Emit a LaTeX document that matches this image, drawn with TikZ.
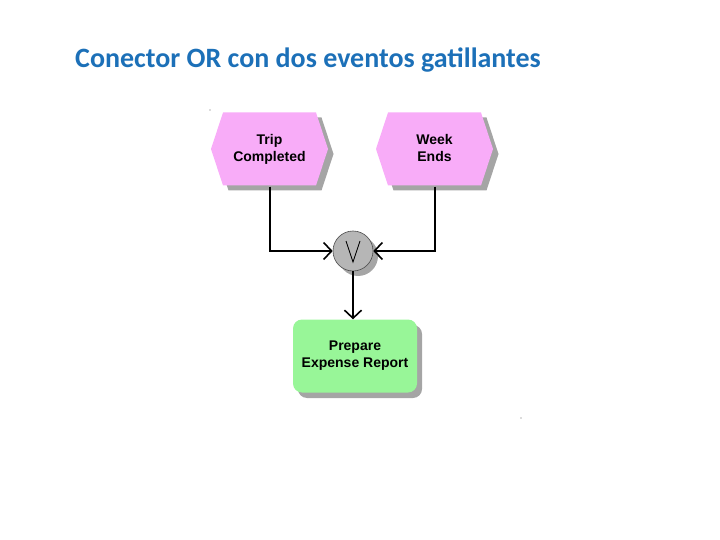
\documentclass[tikz,border=0pt]{standalone}
\usepackage{fontspec}
\setmainfont{Liberation Sans}
\newfontfamily\titlefont{Carlito}
\usetikzlibrary{arrows.meta,shapes.geometric}
\definecolor{titleblue}{RGB}{28,112,184}
\definecolor{evtpink}{RGB}{248,172,248}
\definecolor{funcgreen}{RGB}{152,246,152}
\definecolor{shadowgray}{RGB}{165,165,165}
\definecolor{orgray}{RGB}{182,182,182}
\newcommand\myhex[3]{%
  \fill[#3] (#1-58.5,#2) -- (#1-46.5,#2-36.5) -- (#1+46.5,#2-36.5) -- (#1+58.5,#2)
     -- (#1+46.5,#2+36.5) -- (#1-46.5,#2+36.5) -- cycle;}
\tikzset{
  evt/.style={rectangle, minimum width=117pt, minimum height=73pt, inner sep=0pt,
    align=center, font=\fontsize{14}{17}\selectfont\bfseries},
  func/.style={rectangle, rounded corners=9pt, minimum width=124pt, minimum height=73pt,
    inner sep=0pt, align=center, fill=funcgreen, font=\fontsize{14}{17}\selectfont\bfseries},
  orconn/.style={circle, minimum size=40pt, inner sep=0pt, fill=orgray, draw=black!70, line width=0.6pt},
  conn/.style={line width=2pt, -{Straight Barb[length=8pt,width=17pt,line width=1.6pt]}},
}
\begin{document}
\begin{tikzpicture}[x=1pt,y=-1pt]
\useasboundingbox (0,0) rectangle (720,540);
% title
\node[anchor=base west, inner sep=0pt, text=titleblue, font=\titlefont\fontsize{28}{32}\selectfont\bfseries] (title) at (75,68) {Conector OR con dos eventos gatillantes};
% shadows
\myhex{275}{154}{shadowgray}
\myhex{440}{154}{shadowgray}
\fill[shadowgray, rounded corners=9pt] (298,325) rectangle (422,398);
\fill[shadowgray] (358,256) circle (20);
% shapes
\myhex{269.5}{149}{evtpink}
\myhex{434.5}{149}{evtpink}
\node[evt] (trip) at (269.5,150) {Trip\strut\\Completed\strut};
\node[evt] (week) at (434.5,150) {Week\strut\\Ends\strut};
\node[orconn] (or) at (353,251) {};
\draw[line width=0.9pt, line join=miter] ([xshift=-7pt,yshift=10pt]or.center) -- ([xshift=0pt,yshift=-11pt]or.center) -- ([xshift=7pt,yshift=10pt]or.center);
\node[func] (prep) at (355,356) {Prepare\strut\\Expense Report\strut};
% connectors
\draw[conn] (trip.south) |- (or.west);
\draw[conn] (week.south) |- (or.east);
\draw[conn] (or.south) -- (or.south |- prep.north);
% tiny dots
\fill[black!60] (210,110) circle (0.6);
\fill[black!60] (521,418) circle (0.6);
\end{tikzpicture}
\end{document}
